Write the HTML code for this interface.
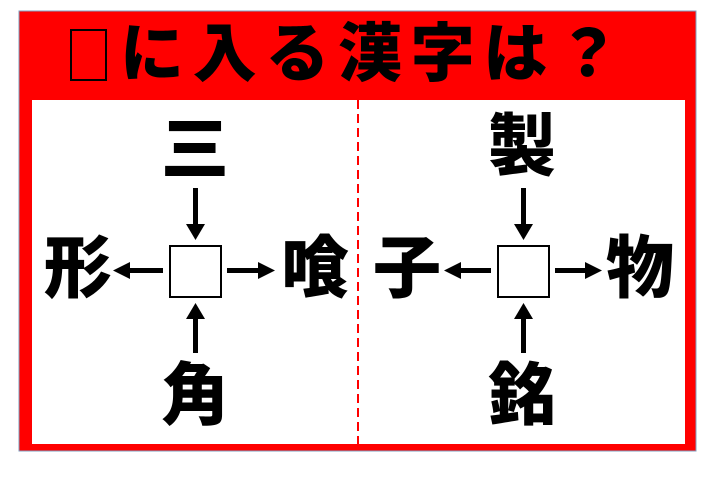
<!DOCTYPE html>
<html><head><meta charset="utf-8"><style>
html,body{margin:0;padding:0;background:#fff;}
svg{display:block;}
text{font-family:"Liberation Sans","Noto Sans CJK JP",sans-serif;font-weight:900;fill:#000;}
</style></head><body>
<svg width="720" height="493" viewBox="0 0 720 493" xmlns="http://www.w3.org/2000/svg">
<rect x="19" y="11" width="677" height="440" fill="#ff0000" stroke="#7f9fc0" stroke-width="1"/>
<rect x="32" y="100" width="653" height="344" fill="#fff"/>
<line x1="358" y1="100" x2="358" y2="444" stroke="#ff0000" stroke-width="2" stroke-dasharray="9,5"/>
<rect x="71" y="30" width="35" height="50" fill="none" stroke="#000" stroke-width="2"/>
<text x="88" y="54" font-size="10" text-anchor="middle" dominant-baseline="central" fill="none" style="fill:none">□</text>
<text x="120" y="54" font-size="64" dominant-baseline="central" textLength="500" lengthAdjust="spacing">に入る漢字は？</text>

<g font-size="68">
<text x="195" y="150" text-anchor="middle" dominant-baseline="central">三</text>
<text x="78" y="269" text-anchor="middle" dominant-baseline="central">形</text>
<text x="315" y="269" text-anchor="middle" dominant-baseline="central">喰</text>
<text x="195" y="396" text-anchor="middle" dominant-baseline="central">角</text>
<text x="522" y="147" text-anchor="middle" dominant-baseline="central">製</text>
<text x="407" y="269" text-anchor="middle" dominant-baseline="central">子</text>
<text x="640" y="269" text-anchor="middle" dominant-baseline="central">物</text>
<text x="522" y="396" text-anchor="middle" dominant-baseline="central">銘</text>
</g>

<g fill="#fff" stroke="#000" stroke-width="2">
<rect x="170" y="246" width="51" height="51"/>
<rect x="498" y="246" width="51" height="51"/>
</g>

<g fill="#000">
<rect x="193" y="188" width="5" height="38"/><polygon points="186,224 205,224 195.5,240"/>
<rect x="193" y="317" width="5" height="36"/><polygon points="186,319 205,319 195.5,303"/>
<rect x="128" y="268" width="35" height="5"/><polygon points="130,262 130,279 113,270.5"/>
<rect x="227" y="268" width="33" height="5"/><polygon points="258,262 258,279 275,270.5"/>
<rect x="521" y="188" width="5" height="38"/><polygon points="514,224 533,224 523.5,240"/>
<rect x="521" y="317" width="5" height="36"/><polygon points="514,319 533,319 523.5,303"/>
<rect x="459" y="268" width="32" height="5"/><polygon points="461,262 461,279 444,270.5"/>
<rect x="555" y="268" width="32" height="5"/><polygon points="585,262 585,279 602,270.5"/>
</g>
</svg>
</body></html>
